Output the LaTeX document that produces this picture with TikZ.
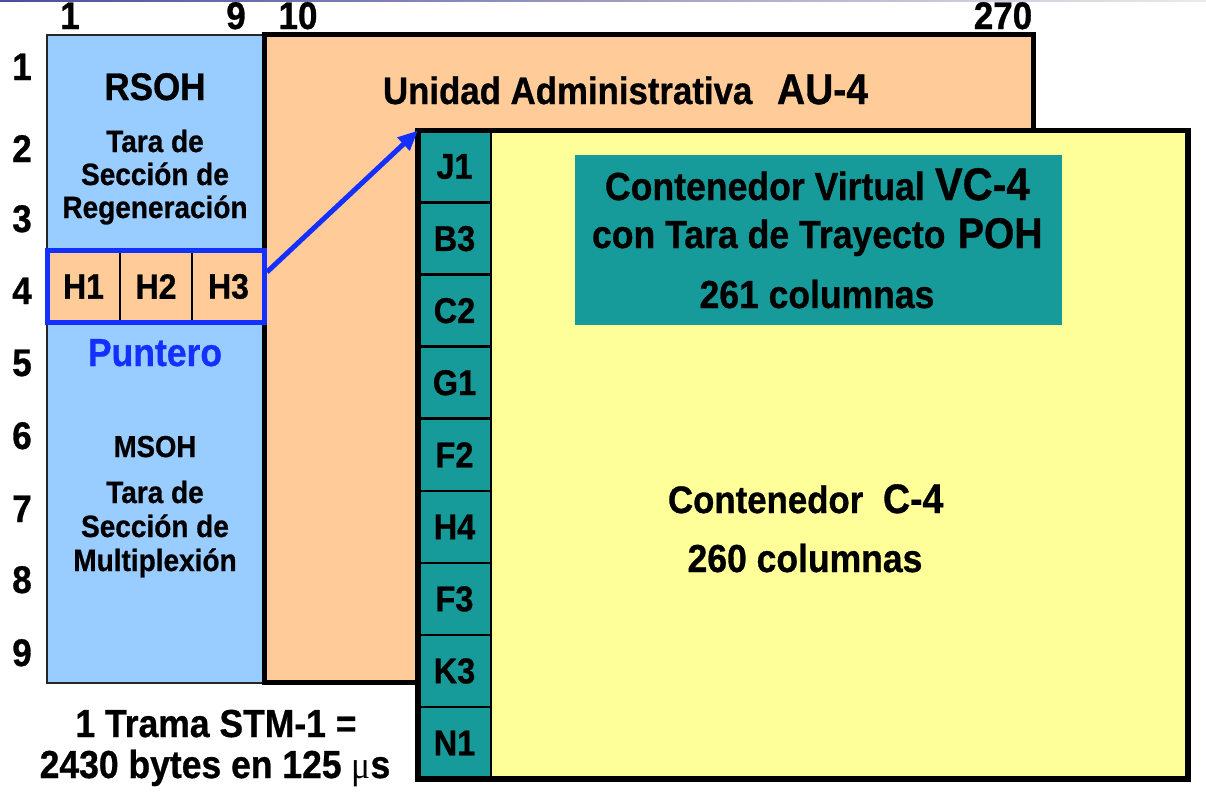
\documentclass[tikz,border=0pt]{standalone}
\usepackage{fontspec}
\usepackage{graphicx}
\setmainfont{Liberation Sans}[BoldFeatures={FakeBold=0.8}]
\newfontfamily\mufont{Liberation Serif}
\usetikzlibrary{arrows.meta,calc}
\definecolor{sohblue}{HTML}{99CCFF}
\definecolor{auorange}{HTML}{FFCC99}
\definecolor{cyellow}{HTML}{FFFF99}
\definecolor{tealbox}{HTML}{179A9A}
\definecolor{ptrblue}{HTML}{1430FF}
\newcommand{\Tx}[1]{\scalebox{1}[1.1]{#1}}
\begin{document}
\begin{tikzpicture}[x=1pt,y=-1pt,
  fs/.style={font=\fontsize{#1}{#1}\selectfont\bfseries, inner sep=0pt, outer sep=0pt},
  box/.style={draw=black, inner sep=0pt, outer sep=0pt, anchor=north west},
  cellbox/.style={draw=black, line width=2.5pt, fill=tealbox, minimum width=73pt, minimum height=72.06pt, inner sep=0pt, font=\fontsize{32.5}{32.5}\selectfont\bfseries},
  hcell/.style={fill=auorange, minimum width=72.3pt, minimum height=72pt, inner sep=0pt, font=\fontsize{32}{32}\selectfont\bfseries}
]
\useasboundingbox (0,0) rectangle (1206,798);
\fill[white] (0,0) rectangle (1206,798);
\shade[left color=blue!45!black!70, right color=black!8] (0,0) rectangle (1206,1.5);

% section overhead column
\node[box, line width=1.5pt, draw=black!85, fill=sohblue, minimum width=216pt, minimum height=648pt] (soh) at (47,35) {};
% administrative unit
\node[box, line width=5pt, fill=auorange, minimum width=768.5pt, minimum height=647.5pt] (au) at (264.5,34.5) {};

% pointer cells
\node[hcell] (h1) at (83.5,286.5) {\Tx{H1}};
\node[hcell] (h2) at (156,286.5) {\Tx{H2}};
\node[hcell] (h3) at (228.5,286.5) {\Tx{H3}};
\draw[line width=1.8pt] (120,250) -- (120,323);
\draw[line width=1.8pt] (192,250) -- (192,323);
\node[draw=ptrblue, line width=5pt, minimum width=217pt, minimum height=72pt, inner sep=0pt] (ptr) at (156,286.5) {};

% container C-4
\node[box, line width=5.5pt, fill=cyellow, minimum width=770pt, minimum height=648.5pt] (c4) at (418,130.5) {};
\foreach \lab [count=\i] in {J1,B3,C2,G1,F2,H4,F3,K3,N1} {
  \node[cellbox] (poh\i) at (454.5,{130.5+72.06*(\i-0.5)}) {\Tx{\lab}};
}
\draw[line width=5.5pt] (c4.north west) rectangle (c4.south east);

% virtual container label box
\node[box, fill=tealbox, draw=none, minimum width=487pt, minimum height=170pt] (vc4) at (575,155) {};

% arrow
\draw[ptrblue, line width=5pt, -{Triangle[length=20pt,width=17pt]}] ([yshift=14.5pt]ptr.east) -- (c4.north west);

% column labels
\node[fs=35, anchor=base] (c1) at (70,29) {\Tx{1}};
\node[fs=35, anchor=base] (c9) at (236,29) {\Tx{9}};
\node[fs=35, anchor=base] (c10) at (298,29) {\Tx{10}};
\node[fs=35, anchor=base] (c270) at (1003,29) {\Tx{270}};
% row labels
\foreach \r/\yy in {1/80,2/162,3/232,4/304,5/376,6/449,7/522,8/593,9/666} {
  \node[fs=35, anchor=base] (r\r) at (22,\yy) {\Tx{\r}};
}

% texts in SOH column
\node[fs=35, anchor=base] (rsoh) at (155,100) {\Tx{RSOH}};
\node[fs=28, anchor=base] (rs1) at (155,152) {\Tx{Tara de}};
\node[fs=28, anchor=base] (rs2) at (155,185) {\Tx{Sección de}};
\node[fs=28, anchor=base] (rs3) at (155,218) {\Tx{Regeneración}};
\node[fs=35.5, anchor=base, text=ptrblue] (punt) at (155,366) {\Tx{Puntero}};
\node[fs=27.5, anchor=base] (msoh) at (155,457) {\Tx{MSOH}};
\node[fs=28, anchor=base] (ms1) at (155,503) {\Tx{Tara de}};
\node[fs=28, anchor=base] (ms2) at (155,537) {\Tx{Sección de}};
\node[fs=28, anchor=base] (ms3) at (155,571) {\Tx{Multiplexión}};

% AU-4 title
\node[fs=34.8, anchor=base west] (aut) at (383,104) {\Tx{Unidad Administrativa}};
\node[fs=39, anchor=base west] (au4) at (777,104) {\Tx{AU-4}};

% VC-4 texts
\node[fs=35.6, anchor=base west] (vct1) at (605,200) {\Tx{Contenedor Virtual}};
\node[fs=41.5, anchor=base west] (vct2) at (935,200) {\Tx{VC-4}};
\node[fs=35.6, anchor=base west] (vct3) at (592,248) {\Tx{con Tara de Trayecto}};
\node[fs=39, anchor=base west] (vct4) at (958,248) {\Tx{POH}};
\node[fs=35.5, anchor=base] (vct5) at (817,308) {\Tx{261 columnas}};

% C-4 texts
\node[fs=34.8, anchor=base west] (ct1) at (668,513) {\Tx{Contenedor}};
\node[fs=37.5, anchor=base west] (ct2) at (883,513) {\Tx{C-4}};
\node[fs=35.5, anchor=base] (ct3) at (805,572) {\Tx{260 columnas}};

% bottom caption
\node[fs=35.5, anchor=base] (cap1) at (216,737) {\Tx{1 Trama STM-1 =}};
\node[fs=35.5, anchor=base] (cap2) at (215,778) {\Tx{2430 bytes en 125 {\mufont\mdseries μ}s}};
\end{tikzpicture}
\end{document}
